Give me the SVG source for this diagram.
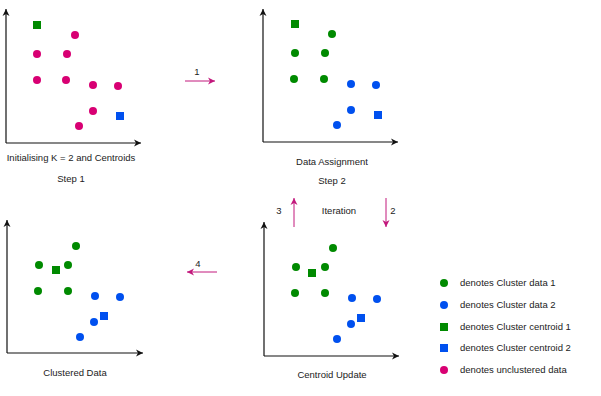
<svg xmlns="http://www.w3.org/2000/svg" width="601" height="396" viewBox="0 0 601 396">
<style>
text{font-family:"Liberation Sans",Arial,sans-serif;font-size:9.5px;fill:#222}
.ax{stroke:#111;stroke-width:1.2;fill:none}
.g{fill:#008a00}.b{fill:#0050ef}.p{fill:#d80073}
.fl{stroke:#c2187c;stroke-width:1;fill:none}
</style>
<defs>
<marker id="ah" markerWidth="8" markerHeight="8" refX="7" refY="4" orient="auto" markerUnits="userSpaceOnUse"><path d="M0,0.5 L7,4 L0,7.5 L2,4 Z" fill="#111"/></marker>
<marker id="ph" markerWidth="8" markerHeight="8" refX="7" refY="4" orient="auto" markerUnits="userSpaceOnUse"><path d="M0,0.5 L7,4 L0,7.5 L2,4 Z" fill="#c2187c"/></marker>
</defs>
<rect width="601" height="396" fill="#fff"/>

<g id="step1">
<path class="ax" d="M6,143 V9" marker-end="url(#ah)"/>
<path class="ax" d="M6,143 H141" marker-end="url(#ah)"/>
<rect class="g" x="33" y="21" width="8" height="8"/>
<circle class="p" cx="75" cy="35" r="4"/>
<circle class="p" cx="37" cy="54" r="4"/>
<circle class="p" cx="67" cy="54" r="4"/>
<circle class="p" cx="37" cy="80" r="4"/>
<circle class="p" cx="66" cy="80" r="4"/>
<circle class="p" cx="93" cy="85" r="4"/>
<circle class="p" cx="118" cy="86" r="4"/>
<circle class="p" cx="93" cy="111" r="4"/>
<circle class="p" cx="79" cy="126" r="4"/>
<rect class="b" x="116" y="112" width="8" height="8"/>
<text x="71" y="161" text-anchor="middle">Initialising K = 2 and Centroids</text>
<text x="71" y="182" text-anchor="middle">Step 1</text>
</g>

<g id="step2">
<path class="ax" d="M263,142 V9" marker-end="url(#ah)"/>
<path class="ax" d="M263,142 H398" marker-end="url(#ah)"/>
<rect class="g" x="291" y="20" width="8" height="8"/>
<circle class="g" cx="332" cy="34" r="4"/>
<circle class="g" cx="295" cy="53" r="4"/>
<circle class="g" cx="325" cy="53" r="4"/>
<circle class="g" cx="294" cy="79" r="4"/>
<circle class="g" cx="324" cy="79" r="4"/>
<circle class="b" cx="351" cy="84" r="4"/>
<circle class="b" cx="376" cy="85" r="4"/>
<circle class="b" cx="351" cy="110" r="4"/>
<circle class="b" cx="337" cy="125" r="4"/>
<rect class="b" x="374" y="111" width="8" height="8"/>
<text x="332" y="165" text-anchor="middle">Data Assignment</text>
<text x="332" y="184" text-anchor="middle">Step 2</text>
</g>

<g id="clustered">
<path class="ax" d="M7,353 V220" marker-end="url(#ah)"/>
<path class="ax" d="M7,353 H143" marker-end="url(#ah)"/>
<circle class="g" cx="76" cy="246" r="4"/>
<circle class="g" cx="39" cy="265" r="4"/>
<circle class="g" cx="68" cy="265" r="4"/>
<circle class="g" cx="38" cy="291" r="4"/>
<circle class="g" cx="68" cy="291" r="4"/>
<rect class="g" x="52" y="266" width="8" height="8"/>
<circle class="b" cx="95" cy="296" r="4"/>
<circle class="b" cx="120" cy="297" r="4"/>
<circle class="b" cx="94" cy="322" r="4"/>
<circle class="b" cx="80" cy="337" r="4"/>
<rect class="b" x="100" y="312" width="8" height="8"/>
<text x="75" y="376" text-anchor="middle">Clustered Data</text>
</g>

<g id="update">
<path class="ax" d="M264,356 V222" marker-end="url(#ah)"/>
<path class="ax" d="M264,356 H399" marker-end="url(#ah)"/>
<circle class="g" cx="333" cy="248" r="4"/>
<circle class="g" cx="296" cy="267" r="4"/>
<circle class="g" cx="325" cy="267" r="4"/>
<circle class="g" cx="295" cy="293" r="4"/>
<circle class="g" cx="325" cy="293" r="4"/>
<rect class="g" x="308" y="269" width="8" height="8"/>
<circle class="b" cx="352" cy="298" r="4"/>
<circle class="b" cx="377" cy="299" r="4"/>
<circle class="b" cx="351" cy="324" r="4"/>
<circle class="b" cx="337" cy="339" r="4"/>
<rect class="b" x="357" y="314" width="8" height="8"/>
<text x="332" y="378" text-anchor="middle">Centroid Update</text>
</g>

<g id="connectors">
<path class="fl" d="M185,81 H215" marker-end="url(#ph)"/>
<text x="197" y="75" text-anchor="middle">1</text>
<path class="fl" d="M294,227 V198" marker-end="url(#ph)"/>
<text x="279" y="214" text-anchor="middle">3</text>
<text x="339" y="214" text-anchor="middle">Iteration</text>
<path class="fl" d="M386,198 V227" marker-end="url(#ph)"/>
<text x="393" y="214" text-anchor="middle">2</text>
<path class="fl" d="M217,272 H187" marker-end="url(#ph)"/>
<text x="198" y="267" text-anchor="middle">4</text>
</g>

<g id="legend">
<circle class="g" cx="444" cy="283" r="4"/>
<text x="460" y="286">denotes Cluster data 1</text>
<circle class="b" cx="444" cy="305" r="4"/>
<text x="460" y="308">denotes Cluster data 2</text>
<rect class="g" x="440" y="323" width="8" height="8"/>
<text x="460" y="330">denotes Cluster centroid 1</text>
<rect class="b" x="440" y="344" width="8" height="8"/>
<text x="460" y="351">denotes Cluster centroid 2</text>
<circle class="p" cx="444" cy="370" r="4"/>
<text x="460" y="373">denotes unclustered data</text>
</g>
</svg>
